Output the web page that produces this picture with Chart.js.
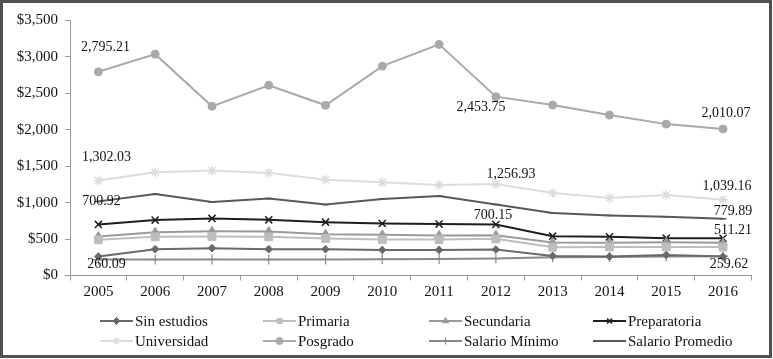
<!DOCTYPE html>
<html>
<head>
<meta charset="utf-8">
<script src="https://cdn.jsdelivr.net/npm/chart.js@4/dist/chart.umd.min.js"></script>
<style>
html,body{margin:0;padding:0;background:#fff;}
#wrap{width:773px;height:359px;position:relative;}
</style>
</head>
<body>
<div id="wrap"><canvas id="c" width="773" height="359"></canvas></div>
<script>
const years = ['2005','2006','2007','2008','2009','2010','2011','2012','2013','2014','2015','2016'];
const sinEstudios   = [260.09, 361, 375, 361, 361, 351, 351, 356, 269, 259, 282, 259.62];
const primaria      = [489, 530, 535, 530, 507, 493, 493, 503, 388, 392, 392, 390];
const secundaria    = [535, 595, 608, 604, 567, 558, 549, 553, 452, 450, 455, 450];
const preparatoria  = [700.92, 760, 783, 764, 732, 714, 705, 700.15, 540, 530, 512, 511.21];
const universidad   = [1302.03, 1416, 1439, 1408, 1315, 1278, 1242, 1256.93, 1132, 1063, 1105, 1039.16];
const posgrado      = [2795.21, 3037, 2321, 2610, 2335, 2872, 3171, 2453.75, 2339, 2201, 2077, 2010.07];
const salarioMinimo = [218, 219, 220, 218, 220, 223, 226, 232, 250, 255, 262, 265];
const salarioPromedio = [1017, 1118, 1008, 1058, 975, 1049, 1091, 975, 857, 824, 806, 779.89];
const yTicks = [0, 500, 1000, 1500, 2000, 2500, 3000, 3500];

const FONT = '"Liberation Serif","Times New Roman",serif';

function ds(label, data, color, style, radius, bw) {
  return {label, data, borderColor: color, backgroundColor: color, pointStyle: style,
    pointRadius: radius, pointHoverRadius: radius, pointBorderColor: color, pointBackgroundColor: color,
    pointBorderWidth: bw || 1, borderWidth: 2, tension: 0, fill: false};
}
const datasets = [
  ds('Sin estudios', sinEstudios, '#696969', 'rectRot', 3.8),
  ds('Primaria', primaria, '#bdbdbd', 'rect', 5.5),
  ds('Secundaria', secundaria, '#9a9a9a', 'triangle', 5),
  ds('Preparatoria', preparatoria, '#1e1e1e', 'crossRot', 5, 1.5),
  ds('Universidad', universidad, '#dcdcdc', 'star', 5, 1.5),
  ds('Posgrado', posgrado, '#a9a9a9', 'circle', 4),
  ds('Salario Mínimo', salarioMinimo, '#8a8a8a', 'cross', 5, 1.2),
  ds('Salario Promedio', salarioPromedio, '#585858', 'line', 3.5, 1.5)
];
// Legend order: row1 then row2
const legendOrder = [0,1,2,3,4,5,6,7];

// value labels: [datasetIndex, pointIndex, dx, dy]
const valueLabels = [
  [5,0,7,-24],[4,0,8,-23],[3,0,3,-23],[0,0,8,8],
  [5,7,-15,11],[4,7,15,-10],[3,7,-3,-9],
  [5,11,3,-16],[4,11,4,-13],[7,11,10,-7],[3,11,10,-8],[0,11,6,8]
];

const fmt = v => v.toLocaleString('en-US',{minimumFractionDigits:2, maximumFractionDigits:2});

function drawMarker(ctx, style, r, color, bw, x, y) {
  if (Chart.helpers && Chart.helpers.drawPoint) {
    ctx.save();
    ctx.fillStyle = color; ctx.strokeStyle = color; ctx.lineWidth = bw;
    Chart.helpers.drawPoint(ctx, {pointStyle: style, radius: r, rotation: 0, borderWidth: bw}, x, y);
    ctx.restore();
  }
}

const framePlugin = {
  id: 'frame',
  beforeDraw(chart) {
    const ctx = chart.ctx;
    ctx.save();
    ctx.fillStyle = '#fff';
    ctx.fillRect(0,0,chart.width,chart.height);
    ctx.strokeStyle = '#505050';
    ctx.lineWidth = 3;
    ctx.strokeRect(1.5, 1.5, 769, 355);
    ctx.restore();
  }
};

const labelPlugin = {
  id: 'vlabels',
  afterDatasetsDraw(chart) {
    const ctx = chart.ctx;
    ctx.save();
    ctx.font = '14px ' + FONT;
    ctx.fillStyle = '#111';
    ctx.textAlign = 'center';
    ctx.textBaseline = 'middle';
    valueLabels.forEach(([d,i,dx,dy]) => {
      const el = chart.getDatasetMeta(d).data[i];
      ctx.fillText(fmt(chart.data.datasets[d].data[i]), el.x + dx, el.y + dy);
    });
    ctx.restore();
  }
};

const legendPlugin = {
  id: 'customLegend',
  afterDraw(chart) {
    const ctx = chart.ctx;
    const colX = [100, 263, 429, 593];
    const rowY = [321, 341];
    ctx.save();
    ctx.font = '15px ' + FONT;
    ctx.textBaseline = 'middle';
    ctx.textAlign = 'left';
    legendOrder.forEach((d, k) => {
      const set = chart.data.datasets[d];
      const x = colX[k % 4], y = rowY[Math.floor(k / 4)];
      ctx.strokeStyle = set.borderColor;
      ctx.lineWidth = 2;
      ctx.beginPath(); ctx.moveTo(x, y); ctx.lineTo(x + 33, y); ctx.stroke();
      drawMarker(ctx, set.pointStyle, Math.min(set.pointRadius, 3.5), set.borderColor, set.pointBorderWidth, x + 16.5, y);
      ctx.fillStyle = '#111';
      ctx.fillText(set.label, x + 35, y + 1);
    });
    ctx.restore();
  }
};

new Chart(document.getElementById('c'), {
  type: 'line',
  data: {labels: years, datasets},
  options: {
    responsive: false,
    animation: false,
    events: [],
    layout: {padding: {left: 4, right: 21.6, top: 20.4, bottom: 53.5}},
    plugins: {legend: {display: false}, tooltip: {enabled: false}},
    scales: {
      x: {
        offset: true,
        grid: {display: true, drawOnChartArea: false, drawTicks: true, tickLength: 5, color: '#9a9a9a', offset: true},
        border: {display: true, color: '#9a9a9a', width: 1},
        ticks: {color: '#111', font: {family: FONT, size: 15}, padding: 3, maxRotation: 0, autoSkip: false},
        afterFit: s => { s.height = 30; }
      },
      y: {
        min: 0, max: 3500,
        afterBuildTicks: s => { s.ticks = yTicks.map(v => ({value: v})); },
        grid: {display: true, drawOnChartArea: false, drawTicks: true, tickLength: 5, color: '#9a9a9a'},
        border: {display: true, color: '#9a9a9a', width: 1},
        ticks: {color: '#111', font: {family: FONT, size: 15}, padding: 7,
          callback: v => '$' + v.toLocaleString('en-US')},
        afterFit: s => { s.width = 66; }
      }
    }
  },
  plugins: [framePlugin, labelPlugin, legendPlugin]
});
</script>
</body>
</html>
